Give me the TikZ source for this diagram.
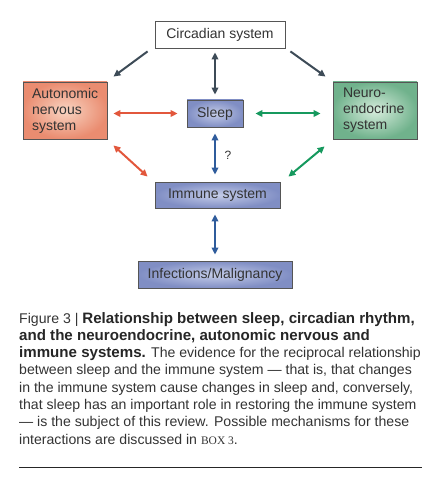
\documentclass[tikz,border=0pt]{standalone}
\usepackage{fontspec}
\setmainfont{Liberation Sans}
\newfontfamily\boxfont{Liberation Serif}
\usetikzlibrary{positioning}
\usetikzlibrary{calc}
\usetikzlibrary{arrows.meta}

\definecolor{boxline}{HTML}{555555}
\definecolor{labeltext}{HTML}{333333}
\definecolor{circline}{HTML}{3D4B57}
\definecolor{autoline}{HTML}{E2573C}
\definecolor{neuroline}{HTML}{16995E}
\definecolor{immuneline}{HTML}{2F5C9C}

\newcommand{\capbold}[1]{{\fontsize{15.1}{16}\bfseries\color{black!85}#1}}

\begin{document}
\begin{tikzpicture}[x=1pt, y=-1pt,
                labelfont/.style={font=\fontsize{14}{16}\selectfont, text=labeltext},
                plainbox/.style={rectangle, draw=boxline, fill=white, thick, labelfont},
                bluebox/.style={rectangle, draw=boxline, thick, labelfont,
                    inner color={rgb,255:red,196;green,204;blue,232}, outer color={rgb,255:red,128;green,142;blue,196}},
                autobox/.style={rectangle, draw=boxline, thick, labelfont, align=left, text width=66pt,
                    inner color={rgb,255:red,248;green,212;blue,194}, outer color={rgb,255:red,234;green,140;blue,112}},
                neurobox/.style={rectangle, draw=boxline, thick, labelfont, align=left, text width=64pt,
                    inner color={rgb,255:red,214;green,236;blue,220}, outer color={rgb,255:red,112;green,178;blue,140}},
                oneway/.style={line width=2pt, -{Triangle[length=7pt, width=6.5pt]}},
                twoway/.style={line width=2pt, {Triangle[length=7pt, width=6.5pt]}-{Triangle[length=7pt, width=6.5pt]}},
                captionline/.style={anchor=base west, inner sep=0pt, font=\fontsize{14.1}{16}\selectfont, text=labeltext},
            ]
            \useasboundingbox (0,0) rectangle (435,484);

            % Nodes
            \node[plainbox, minimum width=130pt, minimum height=27pt]   (circadian)     at (220,34.5)   {Circadian system};
            \node[autobox, minimum width=84pt, minimum height=57pt]     (autonomic)     at (65,110.5)   {Autonomic\\nervous\\system};
            \node[bluebox, minimum width=56pt, minimum height=27pt]     (sleep)         at (215,113.5)  {Sleep};
            \node[neurobox, minimum width=84pt, minimum height=57pt]    (neuro)         at (375,110.5)  {Neuro-\\endocrine\\system};
            \node[bluebox, minimum width=125pt, minimum height=26pt]    (immune)        at (217.5,195)  {Immune system};
            \node[bluebox, minimum width=154pt, minimum height=27pt]    (infections)    at (215,274.5)  {Infections/Malignancy};

            \node[labelfont, font=\fontsize{12}{14}\selectfont]         (question)      at (228,155)    {?};

            %Lines
            \draw[oneway, circline] ($(circadian.south west)+(-7,3)$) -- ($(autonomic.north east)+(6,-5)$);
            \draw[oneway, circline] ($(circadian.south east)+(5,3)$) -- ($(neuro.north west)+(-7,-5)$);
            \draw[twoway, circline, shorten <=4pt, shorten >=5pt] (circadian.south -| sleep.north) -- (sleep.north);

            \draw[twoway, autoline, shorten <=6pt, shorten >=9pt] (autonomic.east |- sleep.west) -- (sleep.west);
            \draw[twoway, neuroline, shorten <=12pt, shorten >=12pt] (sleep.east) -- (neuro.west |- sleep.east);

            \draw[twoway, immuneline, shorten <=6pt, shorten >=7pt] (sleep.south) -- (sleep.south |- immune.north);
            \draw[twoway, autoline] ($(autonomic.south east)+(6,6)$) -- ($(immune.north west)+(-7,-5)$);
            \draw[twoway, neuroline] ($(neuro.south west)+(-8,7)$) -- ($(immune.north east)+(8,-5)$);
            \draw[twoway, immuneline, shorten <=6pt, shorten >=6pt] (immune.south -| infections.north) -- (infections.north);

            % Caption
            \node[captionline] (cap_1) at (19,323)   {Figure 3 | \capbold{Relationship between sleep, circadian rhythm,}};
            \node[captionline] (cap_2) at (19,340.3) {\capbold{and the neuroendocrine, autonomic nervous and}};
            \node[captionline] (cap_3) at (19,357.6) {\capbold{immune systems.} The evidence for the reciprocal relationship};
            \node[captionline] (cap_4) at (19,374.9) {between sleep and the immune system — that is, that changes};
            \node[captionline] (cap_5) at (19,392.2) {in the immune system cause changes in sleep and, conversely,};
            \node[captionline] (cap_6) at (19,409.5) {that sleep has an important role in restoring the immune system};
            \node[captionline] (cap_7) at (19,426.8) {— is the subject of this review. Possible mechanisms for these};
            \node[captionline] (cap_8) at (19,444.1) {interactions are discussed in {\boxfont\fontsize{11.5}{12}\selectfont BOX 3}.};

            \coordinate (rule_left) at (19,467);
            \coordinate (rule_right) at (422,467);
            \draw[line width=1pt, black!85] (rule_left) -- (rule_right);
        \end{tikzpicture}
\end{document}
